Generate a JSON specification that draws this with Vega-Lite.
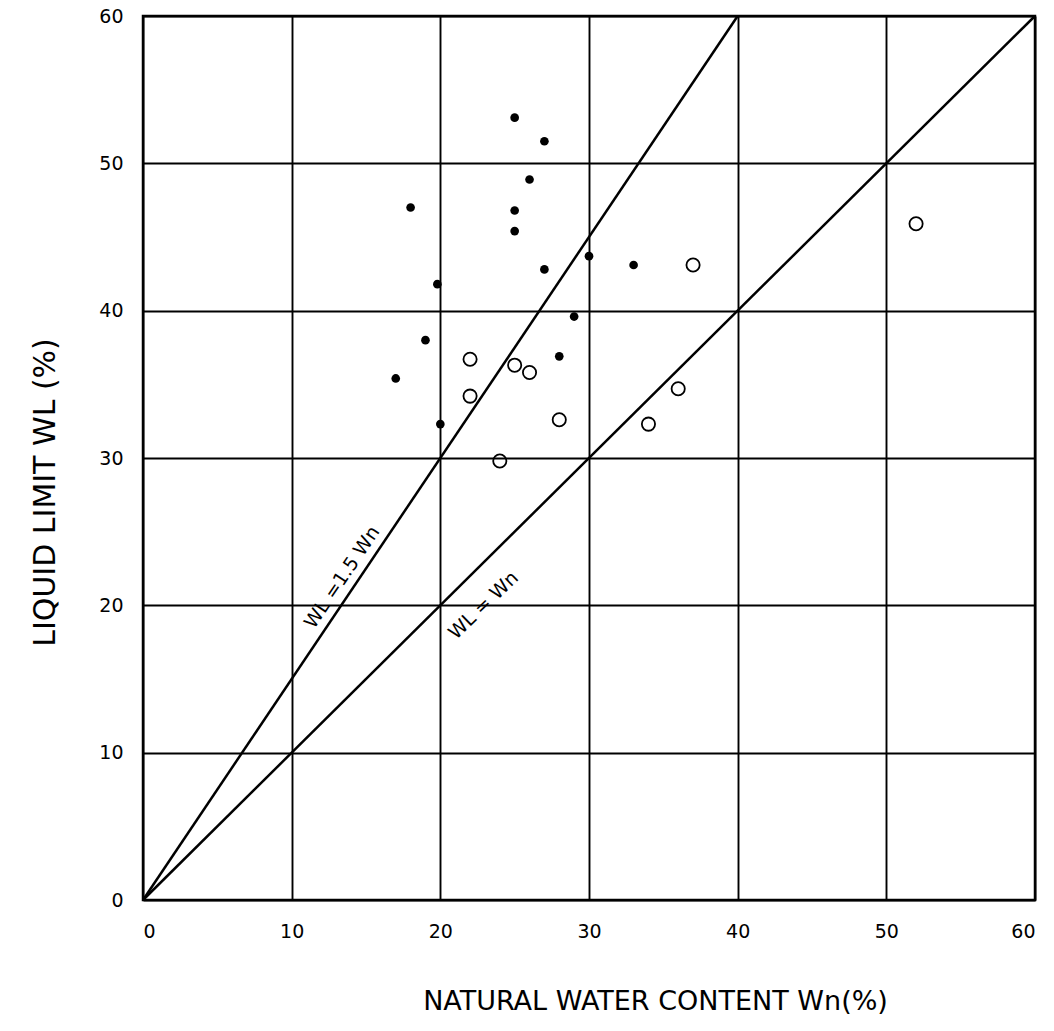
{
  "$schema": "https://vega.github.io/schema/vega-lite/v6.json",
  "width": 892,
  "height": 884,
  "autosize": {"type": "none"},
  "padding": {"left": 143, "top": 16, "right": 19, "bottom": 131},
  "background": "white",
  "config": {
    "view": {"stroke": "black", "strokeWidth": 2.5},
    "axis": {
      "grid": true, "gridColor": "black", "gridOpacity": 1, "gridWidth": 1.9,
      "domain": false, "ticks": false,
      "labelFont": "DejaVu Sans", "labelFontSize": 19, "labelColor": "black",
      "titleFont": "DejaVu Sans", "titleFontSize": 26, "titleFontWeight": "normal", "titleColor": "black"
    }
  },
  "datasets": {
    "pts": [
      {"wn": 25, "wl": 53.1, "kind": "filled"},
      {"wn": 27, "wl": 51.5, "kind": "filled"},
      {"wn": 26, "wl": 48.9, "kind": "filled"},
      {"wn": 18, "wl": 47.0, "kind": "filled"},
      {"wn": 25, "wl": 46.8, "kind": "filled"},
      {"wn": 25, "wl": 45.4, "kind": "filled"},
      {"wn": 30, "wl": 43.7, "kind": "filled"},
      {"wn": 33, "wl": 43.1, "kind": "filled"},
      {"wn": 27, "wl": 42.8, "kind": "filled"},
      {"wn": 19.8, "wl": 41.8, "kind": "filled"},
      {"wn": 29, "wl": 39.6, "kind": "filled"},
      {"wn": 19, "wl": 38.0, "kind": "filled"},
      {"wn": 17, "wl": 35.4, "kind": "filled"},
      {"wn": 28, "wl": 36.9, "kind": "filled"},
      {"wn": 20, "wl": 32.3, "kind": "filled"},
      {"wn": 22, "wl": 36.7, "kind": "open"},
      {"wn": 25, "wl": 36.3, "kind": "open"},
      {"wn": 26, "wl": 35.8, "kind": "open"},
      {"wn": 22, "wl": 34.2, "kind": "open"},
      {"wn": 28, "wl": 32.6, "kind": "open"},
      {"wn": 24, "wl": 29.8, "kind": "open"},
      {"wn": 36, "wl": 34.7, "kind": "open"},
      {"wn": 34, "wl": 32.3, "kind": "open"},
      {"wn": 37, "wl": 43.1, "kind": "open"},
      {"wn": 52, "wl": 45.9, "kind": "open"}
    ],
    "lines": [
      {"series": "WL = 1.5 Wn", "wn": 0, "wl": 0},
      {"series": "WL = 1.5 Wn", "wn": 40, "wl": 60},
      {"series": "WL = Wn", "wn": 0, "wl": 0},
      {"series": "WL = Wn", "wn": 60, "wl": 60}
    ],
    "labels": [
      {"text": "WL =1.5 Wn", "wn": 13.4, "wl": 21.9, "ang": -56},
      {"text": "WL = Wn", "wn": 22.9, "wl": 20.0, "ang": -44}
    ]
  },
  "encoding": {
    "x": {"field": "wn", "type": "quantitative", "scale": {"domain": [0, 60], "nice": false, "zero": false},
      "axis": {"values": [0, 10, 20, 30, 40, 50, 60], "title": "NATURAL WATER CONTENT Wn(%)", "labelPadding": 22, "titlePadding": 47, "titleX": 512, "titleFontSize": 27}},
    "y": {"field": "wl", "type": "quantitative", "scale": {"domain": [0, 60], "nice": false, "zero": false},
      "axis": {"values": [0, 10, 20, 30, 40, 50, 60], "title": "LIQUID LIMIT WL (%)", "labelPadding": 20, "titlePadding": 38, "titleY": 476, "titleFontSize": 30}}
  },
  "layer": [
    {
      "data": {"name": "lines"},
      "mark": {"type": "line", "color": "black", "strokeWidth": 2.5},
      "encoding": {"detail": {"field": "series"}}
    },
    {
      "data": {"name": "pts"},
      "transform": [{"filter": "datum.kind == 'filled'"}],
      "mark": {"type": "point", "shape": "circle", "filled": true, "color": "black", "size": 75, "opacity": 1}
    },
    {
      "data": {"name": "pts"},
      "transform": [{"filter": "datum.kind == 'open'"}],
      "mark": {"type": "point", "shape": "circle", "filled": false, "color": "black", "size": 175, "strokeWidth": 1.8, "opacity": 1}
    },
    {
      "data": {"name": "labels"},
      "mark": {"type": "text", "font": "DejaVu Sans", "fontSize": 19, "color": "black", "align": "center", "baseline": "middle"},
      "encoding": {"text": {"field": "text"}, "angle": {"field": "ang", "type": "quantitative", "scale": null}}
    }
  ]
}
